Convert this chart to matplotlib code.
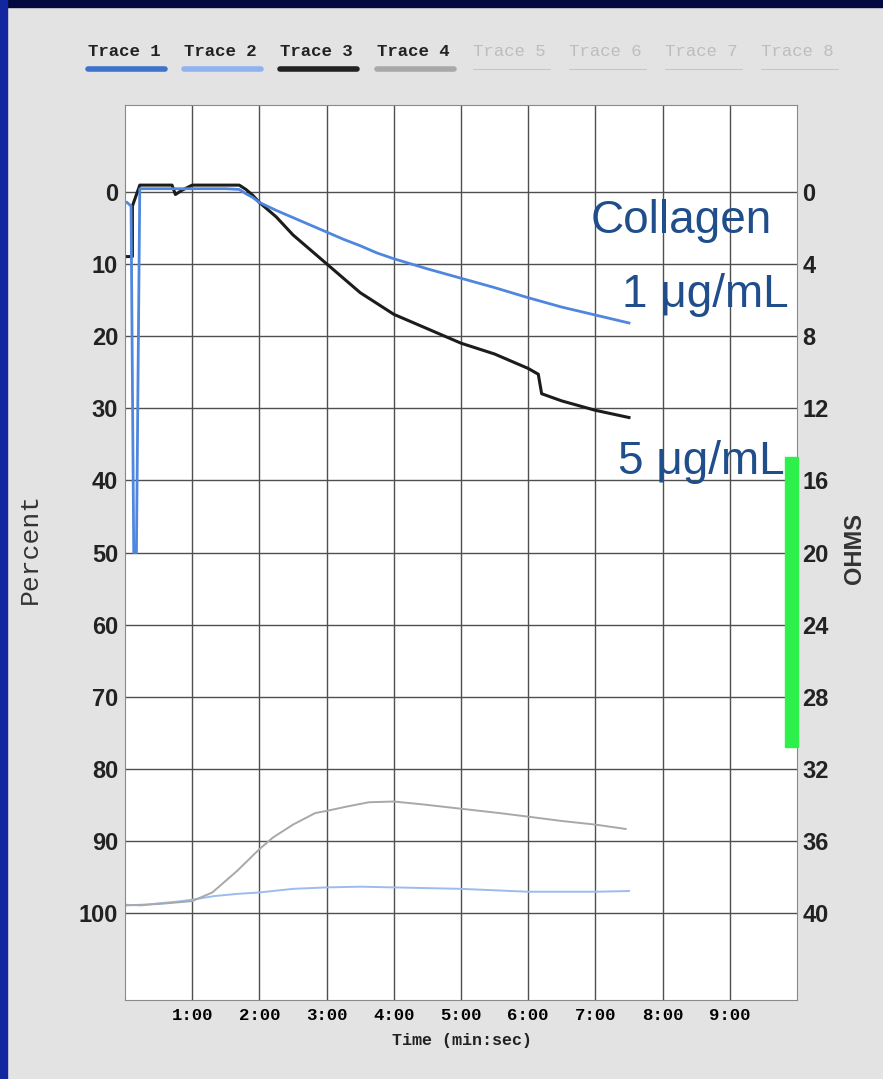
import matplotlib
matplotlib.use("Agg")
import matplotlib.pyplot as plt
from matplotlib.patches import Rectangle
from matplotlib.lines import Line2D

W, H = 883, 1079

# legend entries (only the first four carry data)
legend_labels = ["Trace 1", "Trace 2", "Trace 3", "Trace 4",
                 "Trace 5", "Trace 6", "Trace 7", "Trace 8"]
legend_colors = ["#3d73cc", "#8fb3f0", "#222222", "#a8a8a8",
                 "#c6c6c6", "#c6c6c6", "#c6c6c6", "#c6c6c6"]

# time in minutes, values in percent
t1_time = [0.03, 0.09, 0.13, 0.17, 0.22, 0.5, 1.0, 1.5, 1.7, 1.8, 1.9, 2.0,
           2.25, 2.5, 2.75, 3.0, 3.25, 3.5, 3.75, 4.0, 4.5, 5.0, 5.5, 6.0,
           6.5, 7.0, 7.5]
t1_pct = [1.5, 2.0, 50, 50, -0.4, -0.4, -0.4, -0.4, -0.3, 0.3, 0.8, 1.5,
          2.6, 3.6, 4.6, 5.6, 6.6, 7.5, 8.5, 9.3, 10.7, 12.0, 13.3, 14.7,
          16.0, 17.1, 18.2]

t2_time = [0.0, 0.25, 0.5, 0.75, 1.0, 1.33, 1.67, 2.0, 2.5, 3.0, 3.5, 4.0,
           4.5, 5.0, 5.5, 6.0, 6.5, 7.0, 7.5]
t2_pct = [98.8, 98.9, 98.6, 98.4, 98.1, 97.6, 97.3, 97.1, 96.6, 96.4, 96.3,
          96.4, 96.5, 96.6, 96.8, 97.0, 97.0, 97.0, 96.9]

t3_time = [0.03, 0.11, 0.11, 0.22, 0.5, 0.7, 0.75, 0.85, 1.0, 1.5,
           1.7, 1.8, 1.9, 2.0, 2.25, 2.5, 2.75, 3.0, 3.25, 3.5, 3.75, 4.0,
           4.5, 5.0, 5.5, 6.0, 6.15, 6.2, 6.5, 7.0, 7.5]
t3_pct = [9, 9, 2, -0.9, -0.9, -0.9, 0.4, -0.2, -0.9, -0.9,
          -0.9, -0.3, 0.5, 1.5, 3.5, 6.0, 8.0, 10.0, 12.0, 14.0, 15.5, 17.0,
          19.0, 21.0, 22.5, 24.5, 25.3, 28.0, 29.0, 30.3, 31.3]

t4_time = [0.0, 0.5, 1.0, 1.3, 1.67, 2.0, 2.2, 2.5, 2.83, 3.0, 3.3, 3.63,
           4.0, 4.43, 5.0, 5.57, 6.0, 6.5, 7.0, 7.45]
t4_pct = [98.9, 98.7, 98.3, 97.1, 94.1, 91.1, 89.5, 87.7, 86.1, 85.8, 85.2,
          84.6, 84.5, 84.9, 85.5, 86.1, 86.6, 87.2, 87.7, 88.3]

x_ticks = [1, 2, 3, 4, 5, 6, 7, 8, 9]
x_ticklabels = ["1:00", "2:00", "3:00", "4:00", "5:00", "6:00", "7:00",
                "8:00", "9:00"]
pct_ticks = [0, 10, 20, 30, 40, 50, 60, 70, 80, 90, 100]
ohm_ticks = [0, 4, 8, 12, 16, 20, 24, 28, 32, 36, 40]

mono = ["Liberation Mono", "DejaVu Sans Mono"]
narrow = ["Liberation Sans", "DejaVu Sans"]
slide_font = ["Liberation Sans", "DejaVu Sans"]


def fx(x):
    return x / W


def fy(y):
    return 1 - y / H


fig = plt.figure(figsize=(W / 100, H / 100), dpi=100, facecolor="#e3e3e3")

# slide frame around the scanned chart
fig.add_artist(Rectangle((0, fy(7)), 1, 7 / H, transform=fig.transFigure,
                         color="#03093f", zorder=-5))
fig.add_artist(Rectangle((0, 0), fx(7), 1, transform=fig.transFigure,
                         color="#1226a0", zorder=-5))

ax = fig.add_axes([fx(125), fy(1000), (797 - 125) / W, (1000 - 105) / H])
ax.set_facecolor("white")
ax.set_xlim(0, 10)
ax.set_ylim(112, -12)

ax.plot(t2_time, t2_pct, color="#9dbbf0", lw=1.4)
ax.plot(t4_time, t4_pct, color="#a8a8a8", lw=1.4)
ax.plot(t3_time, t3_pct, color="#1c1c1c", lw=2.2)
ax.plot(t1_time, t1_pct, color="#4f86de", lw=2.0)

ax.set_xticks(x_ticks, x_ticklabels)
ax.set_yticks(pct_ticks)
ax.grid(True, color="#4f4f4f", lw=1)
ax.set_axisbelow(True)
for s in ax.spines.values():
    s.set_color("#8a8a8a")
ax.tick_params(axis="x", length=0, pad=6, labelsize=12.5)
ax.tick_params(axis="y", length=0, pad=5, labelsize=17)
for lab in ax.get_xticklabels():
    lab.set_fontfamily(mono)
    lab.set_fontweight("bold")
for lab in ax.get_yticklabels():
    lab.set_fontfamily(narrow)
    lab.set_fontweight("bold")
    lab.set_color("#222222")

# ohms scale on the right
ax2 = ax.twinx()
ax2.set_ylim(112 * 0.4, -12 * 0.4)
ax2.set_yticks(ohm_ticks)
for s in ax2.spines.values():
    s.set_visible(False)
ax2.tick_params(axis="y", length=0, pad=4, labelsize=17)
for lab in ax2.get_yticklabels():
    lab.set_fontfamily(narrow)
    lab.set_fontweight("bold")
    lab.set_color("#222222")

fig.text(fx(462), fy(1040), "Time (min:sec)", family=mono, weight="bold",
         fontsize=12, ha="center", va="center", color="#222222")
fig.text(fx(30), fy(548), "Percent", family=mono, fontsize=19,
         rotation=90, ha="center", va="center", color="#333333")
fig.text(fx(855), fy(548), "OHMS", family=narrow, weight="bold", fontsize=17,
         rotation=90, ha="center", va="center", color="#333333")

# legend row at the top
for i, (lab, col) in enumerate(zip(legend_labels, legend_colors)):
    x0 = 88 + i * 96.2
    faded = i >= 4
    fig.text(fx(x0), fy(51), lab, family=mono, weight="normal" if faded else "bold",
             fontsize=12.5, ha="left", va="center",
             color="#bdbdbd" if faded else "#222222")
    fig.add_artist(Line2D([fx(x0), fx(x0 + 77)], [fy(69), fy(69)],
                          transform=fig.transFigure, color=col,
                          lw=0.8 if faded else 4, solid_capstyle="round"))

# slide annotations
txt_col = "#1f4e8b"
fig.text(fx(772), fy(233), "Collagen", family=slide_font, fontsize=33,
         ha="right", va="baseline", color=txt_col)
fig.text(fx(789), fy(307), "1 \u03bcg/mL", family=slide_font, fontsize=33,
         ha="right", va="baseline", color=txt_col)
fig.text(fx(785), fy(474), "5 \u03bcg/mL", family=slide_font, fontsize=33,
         ha="right", va="baseline", color=txt_col)
fig.add_artist(Rectangle((fx(785), fy(747)), 13 / W, (747 - 457) / H,
                         transform=fig.transFigure, color="#2ef04a", zorder=5))

fig.savefig("out.png", dpi=100, facecolor=fig.get_facecolor())
